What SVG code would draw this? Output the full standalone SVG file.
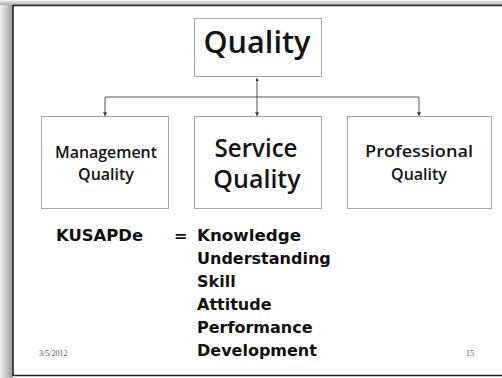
<svg xmlns="http://www.w3.org/2000/svg" width="502" height="378" viewBox="0 0 502 378">
  <defs>
    <linearGradient id="shL" x1="0" y1="0" x2="1" y2="0">
      <stop offset="0" stop-color="#f0f0f0"/>
      <stop offset="1" stop-color="#9a9a9a"/>
    </linearGradient>
    <linearGradient id="shT" x1="0" y1="0" x2="0" y2="1">
      <stop offset="0" stop-color="#f4f4f4"/>
      <stop offset="1" stop-color="#a8a8a8"/>
    </linearGradient>
    <marker id="arr" viewBox="0 0 6 6" refX="5" refY="3" markerWidth="4" markerHeight="4" orient="auto">
      <path d="M0,0 L6,3 L0,6 z" fill="#333"/>
    </marker>
    <marker id="arrBig" viewBox="0 0 6 6" refX="5" refY="3" markerWidth="3" markerHeight="3" orient="auto">
      <path d="M0,0 L6,3 L0,6 z" fill="#222"/>
    </marker>
  </defs>
  <style>
    .box { fill: #ffffff; stroke: #a6a6a6; stroke-width: 1; }
    .cal { font-family: "Open Sans", "Liberation Sans", sans-serif; font-weight: 600; fill: #141414; text-anchor: middle; }
    .tah { font-family: "DejaVu Sans", "Liberation Sans", sans-serif; font-weight: bold; fill: #111; font-size: 16px; }
    .conn { stroke: #555; stroke-width: 1; fill: none; }
    .small { font-family: "Liberation Serif", serif; font-size: 8px; fill: #555; }
  </style>
  <rect x="0" y="0" width="502" height="378" fill="#ffffff"/>
  <rect x="0" y="0" width="13" height="378" fill="url(#shL)"/>
  <rect x="0" y="0" width="502" height="5" fill="url(#shT)"/>
  <path d="M13,5.5 H502 M13,5 V376 M13,375.5 H502" stroke="#222" stroke-width="1.6" fill="none"/>

  <g id="connectors">
    <line class="conn" x1="257" y1="97" x2="257" y2="78.5" stroke-width="1.6" marker-end="url(#arrBig)"/>
    <line class="conn" x1="105" y1="97" x2="419" y2="97"/>
    <line class="conn" x1="105" y1="97" x2="105" y2="115.5" marker-end="url(#arr)"/>
    <line class="conn" x1="257" y1="97" x2="257" y2="115.5" marker-end="url(#arr)"/>
    <line class="conn" x1="419" y1="97" x2="419" y2="115.5" marker-end="url(#arr)"/>
  </g>

  <g id="quality">
    <rect class="box" x="194.5" y="18.5" width="127" height="58"/>
    <text class="cal" x="257" y="53" font-size="30" textLength="107" lengthAdjust="spacingAndGlyphs">Quality</text>
  </g>

  <g id="management-quality">
    <rect class="box" x="41.5" y="116.5" width="127" height="92"/>
    <text class="cal" x="106" y="158" font-size="16" textLength="102" lengthAdjust="spacingAndGlyphs">Management</text>
    <text class="cal" x="106" y="180" font-size="16">Quality</text>
  </g>

  <g id="service-quality">
    <rect class="box" x="194.5" y="116.5" width="127" height="92"/>
    <text class="cal" x="256" y="157" font-size="25" textLength="83" lengthAdjust="spacingAndGlyphs">Service</text>
    <text class="cal" x="257" y="188" font-size="25">Quality</text>
  </g>

  <g id="professional-quality">
    <rect class="box" x="347.5" y="116.5" width="144" height="92"/>
    <text class="cal" x="419" y="157" font-size="16" textLength="108" lengthAdjust="spacingAndGlyphs">Professional</text>
    <text class="cal" x="419" y="180" font-size="16">Quality</text>
  </g>

  <g id="kusapde">
    <text class="tah" x="56" y="241" textLength="87" lengthAdjust="spacingAndGlyphs">KUSAPDe</text>
    <text class="tah" x="174" y="241">=</text>
    <text class="tah" x="197" y="241" textLength="104" lengthAdjust="spacingAndGlyphs">Knowledge</text>
    <text class="tah" x="197" y="264">Understanding</text>
    <text class="tah" x="197" y="287">Skill</text>
    <text class="tah" x="197" y="310">Attitude</text>
    <text class="tah" x="197" y="333">Performance</text>
    <text class="tah" x="197" y="356">Development</text>
  </g>

  <text class="small" x="39" y="356">3/5/2012</text>
  <text class="small" x="466" y="356">15</text>
</svg>
